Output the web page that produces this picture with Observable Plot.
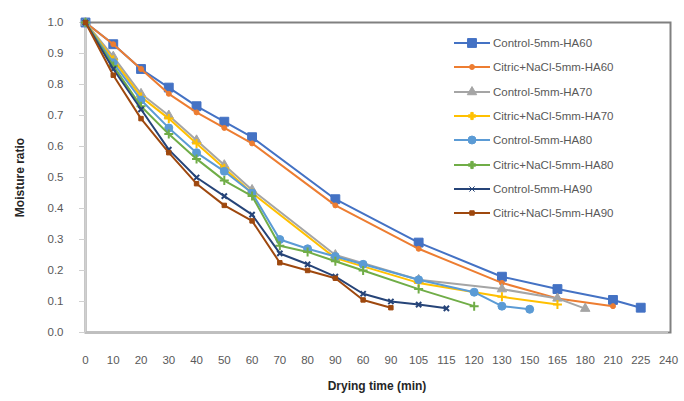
<!DOCTYPE html>
<html><head><meta charset="utf-8">
<script src="https://cdn.jsdelivr.net/npm/d3@7"></script>
<script src="https://cdn.jsdelivr.net/npm/@observablehq/plot@0.6"></script>
<style>
body{margin:0;background:#fff;font-family:"Liberation Sans",Arial,sans-serif;overflow:hidden;}
#wrap{position:relative;width:684px;height:401px;}
#legend{position:absolute;left:453px;top:31px;font-size:11.5px;color:#595959;}
#legend .row{height:24.3px;display:flex;align-items:center;white-space:nowrap;}
#legend svg{margin-right:2px;}
</style></head>
<body><div id="wrap"><div id="legend"></div></div>
<script>
const xLabels = ["0","10","20","30","40","50","60","70","80","90","60","90","105","115","120","130","150","165","180","210","225","240"];

const names = ["Control-5mm-HA60","Citric+NaCl-5mm-HA60","Control-5mm-HA70","Citric+NaCl-5mm-HA70","Control-5mm-HA80","Citric+NaCl-5mm-HA80","Control-5mm-HA90","Citric+NaCl-5mm-HA90"];
const colors = ["#4472C4","#ED7D31","#A5A5A5","#FFC000","#5B9BD5","#70AD47","#264478","#9E480E"];
const symbols = ["square","circle","triangle","plus","circle","plus","times","square"];
const symSizes = [5,2.5,3.5,3,4,3,2.5,2.5];

const c60Idx = [0,1,2,3,4,5,6,9,12,15,17,19,20];
const c60Val = [1.0,0.93,0.85,0.79,0.73,0.68,0.63,0.43,0.29,0.18,0.14,0.105,0.08];
const s60Idx = [0,1,2,3,4,5,6,9,12,15,17,19];
const s60Val = [1.0,0.93,0.85,0.77,0.71,0.66,0.61,0.41,0.27,0.16,0.11,0.085];
const c70Idx = [0,1,2,3,4,5,6,9,12,15,17,18];
const c70Val = [1.0,0.89,0.77,0.70,0.62,0.54,0.46,0.25,0.17,0.14,0.11,0.077];
const s70Idx = [0,1,2,3,4,5,6,9,12,15,17];
const s70Val = [1.0,0.88,0.76,0.69,0.61,0.53,0.45,0.24,0.16,0.115,0.09];
const c80Idx = [0,1,2,3,4,5,6,7,8,9,10,12,14,15,16];
const c80Val = [1.0,0.87,0.75,0.66,0.58,0.52,0.45,0.30,0.27,0.245,0.22,0.17,0.13,0.085,0.075];
const s80Idx = [0,1,2,3,4,5,6,7,8,9,10,12,14];
const s80Val = [1.0,0.86,0.73,0.64,0.56,0.49,0.44,0.28,0.26,0.23,0.20,0.14,0.085];
const c90Idx = [0,1,2,3,4,5,6,7,8,9,10,11,12,13];
const c90Val = [1.0,0.85,0.72,0.59,0.50,0.44,0.38,0.255,0.22,0.18,0.125,0.10,0.09,0.078];
const s90Idx = [0,1,2,3,4,5,6,7,8,9,10,11];
const s90Val = [1.0,0.83,0.69,0.58,0.48,0.41,0.36,0.225,0.20,0.175,0.105,0.08];

const yTicks = [0,0.1,0.2,0.3,0.4,0.5,0.6,0.7,0.8,0.9,1.0];

const idxs = [c60Idx,s60Idx,c70Idx,s70Idx,c80Idx,s80Idx,c90Idx,s90Idx];
const vals = [c60Val,s60Val,c70Val,s70Val,c80Val,s80Val,c90Val,s90Val];

const marks = [];
names.forEach((n,k)=>{
  const data = idxs[k].map((x,i)=>({x, y: vals[k][i]}));
  marks.push(Plot.line(data,{x:"x",y:"y",stroke:colors[k],strokeWidth:2}));
  marks.push(Plot.dot(data,{x:"x",y:"y",symbol:symbols[k],r:symSizes[k],fill:colors[k],stroke:colors[k],strokeWidth:symbols[k]==="plus"||symbols[k]==="times"?2:1}));
});

const lastIdx = xLabels.length - 1;
const chart = Plot.plot({
  width:684, height:401,
  marginLeft:85, marginRight:16, marginTop:22, marginBottom:69,
  style:{fontFamily:'"Liberation Sans",Arial,sans-serif',fontSize:"11.5px",color:"#595959",background:"transparent"},
  x:{type:"point",domain:d3.range(xLabels.length),padding:0,round:false,range:[85,668]},
  y:{domain:[0,1],range:[332,22]},
  marks:[
    Plot.frame({stroke:"#808080",strokeWidth:2,insetRight:-2}),
    Plot.ruleY([{v:0}],{y:"v",x1:0,x2:lastIdx,stroke:"#bfbfbf",strokeWidth:1.5}),
    Plot.ruleX([{v:0}],{x:"v",y1:0,y2:1,stroke:"#d0d0d0",strokeWidth:2}),
    Plot.axisY({ticks:yTicks,tickFormat:d3.format(".1f"),tickSize:6,tickPadding:16,stroke:"#d0d0d0",
      label:"Moisture ratio",labelAnchor:"center",labelOffset:70}),
    Plot.axisX({ticks:d3.range(xLabels.length),tickFormat:i=>xLabels[i],tickSize:0,tickPadding:23,
      label:"Drying time (min)",labelAnchor:"center",labelOffset:57}),
    ...marks
  ]
});
document.getElementById("wrap").prepend(chart);
chart.style.position="absolute";chart.style.left="0";chart.style.top="0";
d3.select(chart).selectAll("[aria-label='y-axis label'] text, [aria-label='x-axis label'] text")
  .style("font-weight","bold").style("fill","#262626").style("font-size","12px");
d3.select(chart).selectAll("[aria-label='x-axis label'] text, [aria-label='y-axis label'] text").text(function(){return this.textContent.replace(/[↑→]/g,"").trim();});

const leg = d3.select("#legend");
names.forEach((n,k)=>{
  const row = leg.append("div").attr("class","row");
  const s = row.append("svg").attr("width",38).attr("height",12);
  s.append("line").attr("x1",1).attr("x2",37).attr("y1",6).attr("y2",6).attr("stroke",colors[k]).attr("stroke-width",2);
  const symMap={square:d3.symbolSquare,circle:d3.symbolCircle,triangle:d3.symbolTriangle,plus:d3.symbolCross,times:d3.symbolTimes};
  const sz = Math.PI*symSizes[k]*symSizes[k];
  s.append("path").attr("d",d3.symbol(symMap[symbols[k]],sz)()).attr("transform","translate(19,6)")
    .attr("fill",colors[k]).attr("stroke",colors[k]);
  row.append("span").text(n);
});
</script></body></html>
